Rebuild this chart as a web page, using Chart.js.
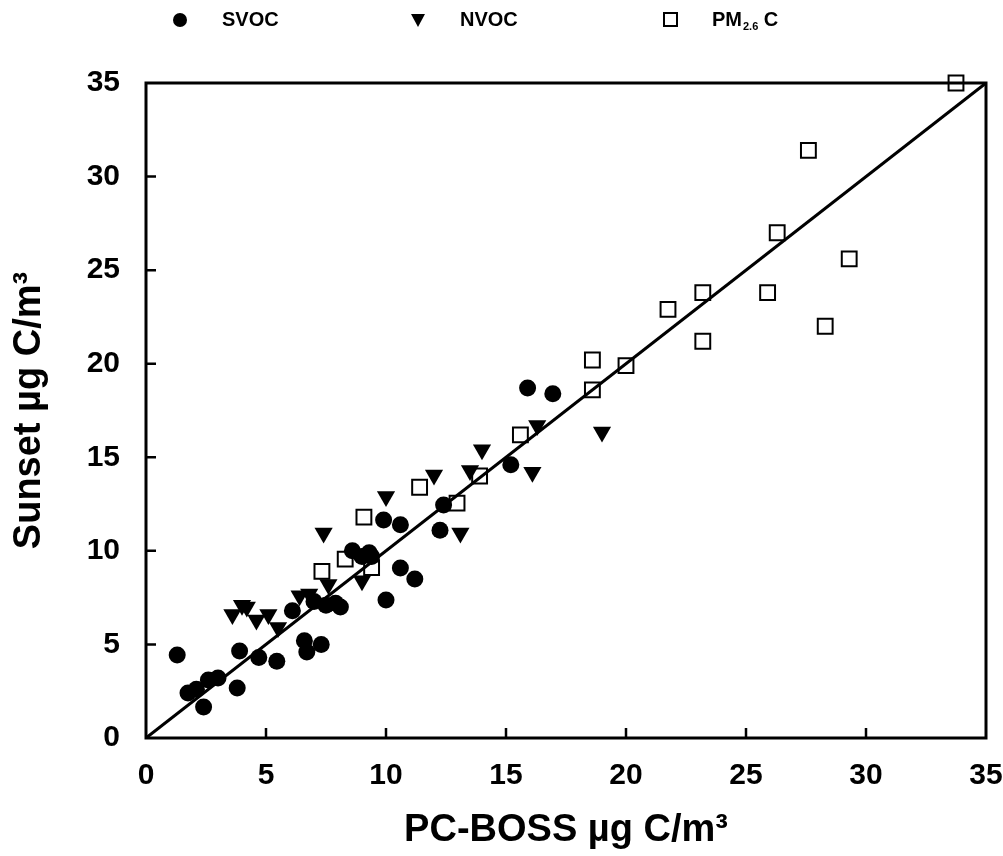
<!DOCTYPE html>
<html>
<head>
<meta charset="utf-8">
<script src="https://cdn.jsdelivr.net/npm/chart.js@4.4.1/dist/chart.umd.min.js"></script>
<style>
  html, body { margin: 0; padding: 0; background: #fff; }
  #wrap { width: 1003px; height: 856px; position: relative; }
</style>
</head>
<body>
<div id="wrap"><canvas id="chart"></canvas></div>
<script>
// ── Values (µg C/m³) ──────────────────────────────────
const svocX = [1.3, 1.75, 2.1, 2.4, 2.6, 3.0, 3.8, 3.9, 4.7, 5.45, 6.1, 6.6, 6.7, 7.3, 7.0, 7.5, 7.9, 8.1,
               8.6, 9.0, 9.3, 9.4, 9.9, 10.0, 10.6, 10.6, 11.2, 12.25, 12.4, 15.2, 15.9, 16.95];
const svocY = [4.43, 2.4, 2.6, 1.66, 3.1, 3.2, 2.67, 4.65, 4.3, 4.1, 6.8, 5.2, 4.6, 5.0, 7.3, 7.1, 7.2, 7.0,
               10.0, 9.7, 9.9, 9.7, 11.65, 7.37, 11.4, 9.08, 8.5, 11.1, 12.45, 14.6, 18.7, 18.4];

const nvocX = [3.6, 4.0, 4.2, 4.6, 5.1, 5.5, 6.4, 6.8, 7.6, 7.4, 9.0, 10.0, 12.0, 13.1, 13.5, 14.0, 16.1, 16.3, 19.0];
const nvocY = [6.6, 7.1, 7.0, 6.3, 6.6, 5.9, 7.6, 7.7, 8.2, 10.95, 8.4, 12.9, 14.05, 10.95, 14.3, 15.4, 14.2, 16.7, 16.35];

const pmX = [7.33, 8.3, 9.08, 9.4, 11.4, 12.96, 13.9, 15.6, 18.6, 18.6, 20.0, 21.75, 23.2, 23.2, 25.9, 26.3, 27.6, 28.3, 29.3, 33.75];
const pmY = [8.9, 9.56, 11.8, 9.1, 13.4, 12.55, 14.0, 16.2, 20.2, 18.6, 19.9, 22.9, 23.8, 21.2, 23.8, 27.0, 31.4, 22.0, 25.6, 35.0];

// 1:1 reference line
const lineX = [0, 35];
const lineY = [0, 35];

const axisMin = 0, axisMax = 35, axisStep = 5;
const tickValues = [5, 10, 15, 20, 25, 30];

const FONT = "'Liberation Sans', Arial, Helvetica, sans-serif";

function pairs(xs, ys) {
  return xs.map((x, i) => ({ x, y: ys[i] }));
}

// ── Frame + inward tick marks ─────────────────────────
const framePlugin = {
  id: 'frame',
  beforeDatasetsDraw(chart) {
    const { ctx, chartArea: a, scales: { x, y } } = chart;
    ctx.save();
    ctx.strokeStyle = '#000';
    ctx.lineWidth = 3;
    ctx.strokeRect(a.left, a.top, a.right - a.left, a.bottom - a.top);
    ctx.lineWidth = 2.5;
    ctx.beginPath();
    tickValues.forEach(v => {
      const px = x.getPixelForValue(v);
      ctx.moveTo(px, a.bottom);
      ctx.lineTo(px, a.bottom - 10);
      const py = y.getPixelForValue(v);
      ctx.moveTo(a.left, py);
      ctx.lineTo(a.left + 10, py);
    });
    ctx.stroke();
    ctx.restore();
  }
};

// ── Legend row at top ─────────────────────────────────
const legendPlugin = {
  id: 'topLegend',
  afterDraw(chart) {
    const ctx = chart.ctx;
    const cy = 20;
    ctx.save();
    ctx.fillStyle = '#000';
    ctx.strokeStyle = '#000';

    // circle
    ctx.beginPath();
    ctx.arc(180, cy, 7, 0, Math.PI * 2);
    ctx.fill();
    // down triangle
    ctx.beginPath();
    ctx.moveTo(411, cy - 6);
    ctx.lineTo(425, cy - 6);
    ctx.lineTo(418, cy + 7);
    ctx.closePath();
    ctx.fill();
    // open square
    ctx.lineWidth = 2;
    ctx.strokeRect(664, cy - 7, 13, 13);

    ctx.font = `bold 20px ${FONT}`;
    ctx.textBaseline = 'middle';
    ctx.textAlign = 'left';
    ctx.fillText('SVOC', 222, cy);
    ctx.fillText('NVOC', 460, cy);
    ctx.fillText('PM', 712, cy);
    let xx = 712 + ctx.measureText('PM').width;
    ctx.font = `bold 11px ${FONT}`;
    ctx.fillText('2.6', xx + 1, cy + 7);
    xx += ctx.measureText('2.6').width + 1;
    ctx.font = `bold 20px ${FONT}`;
    ctx.fillText(' C', xx, cy);
    ctx.restore();
  }
};

const tickFont = { family: FONT, size: 30, weight: 'bold', lineHeight: 1.2 };
const titleFont = { family: FONT, size: 38, weight: 'bold', lineHeight: 1.2 };

new Chart(document.getElementById('chart'), {
  type: 'scatter',
  data: {
    datasets: [
      {
        type: 'line',
        label: '1:1',
        data: pairs(lineX, lineY),
        borderColor: '#000',
        borderWidth: 3,
        pointRadius: 0,
        fill: false,
        tension: 0,
        order: 0,
      },
      {
        label: 'SVOC',
        data: pairs(svocX, svocY),
        pointStyle: 'circle',
        pointRadius: 8.5,
        backgroundColor: '#000',
        borderColor: '#000',
        borderWidth: 0,
        clip: false,
        order: 1,
      },
      {
        label: 'NVOC',
        data: pairs(nvocX, nvocY),
        pointStyle: 'triangle',
        rotation: 180,
        pointRadius: 10.5,
        backgroundColor: '#000',
        borderColor: '#000',
        borderWidth: 0,
        clip: false,
        order: 2,
      },
      {
        label: 'PM2.6 C',
        data: pairs(pmX, pmY),
        pointStyle: 'rect',
        pointRadius: 10.5,
        backgroundColor: 'rgba(255,255,255,0)',
        borderColor: '#000',
        borderWidth: 2,
        clip: false,
        order: 3,
      },
    ],
  },
  options: {
    responsive: true,
    maintainAspectRatio: false,
    animation: false,
    layout: { padding: { top: 83, right: 17, left: 0, bottom: 0 } },
    plugins: {
      legend: { display: false },
      tooltip: { enabled: false },
    },
    scales: {
      x: {
        type: 'linear',
        min: axisMin, max: axisMax,
        border: { display: false },
        grid: { display: false, drawTicks: false },
        ticks: { stepSize: axisStep, color: '#000', font: tickFont, padding: 20, maxRotation: 0 },
        title: { display: true, text: 'PC-BOSS µg C/m³', color: '#000', font: titleFont, padding: { top: 0, bottom: 3 } },
        afterFit: s => { s.height = 118; s.paddingLeft = 0; s.paddingRight = 0; },
      },
      y: {
        type: 'linear',
        min: axisMin, max: axisMax,
        border: { display: false },
        grid: { display: false, drawTicks: false },
        ticks: { stepSize: axisStep, color: '#000', font: tickFont, padding: 26 },
        title: { display: true, text: 'Sunset µg C/m³', color: '#000', font: titleFont, padding: { top: 7, bottom: 0 } },
        afterFit: s => { s.width = 146; s.paddingTop = 0; s.paddingBottom = 0; },
      },
    },
  },
  plugins: [framePlugin, legendPlugin],
});
</script>
</body>
</html>
